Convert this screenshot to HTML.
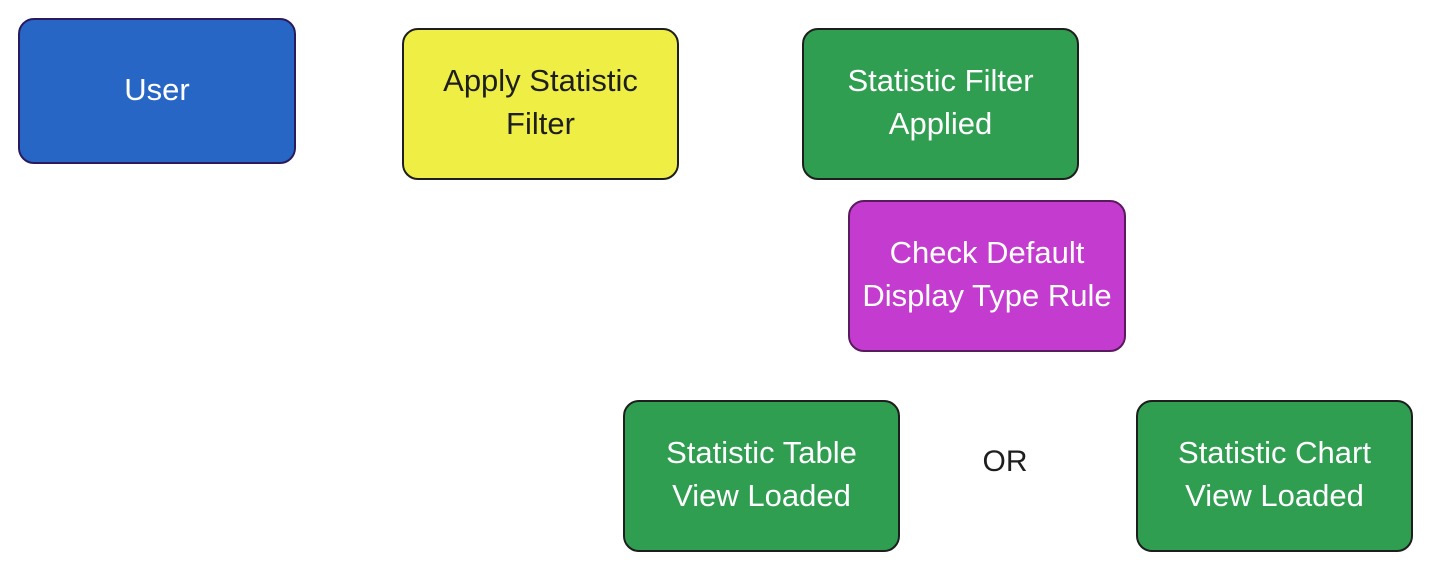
<!DOCTYPE html>
<html><head><meta charset="utf-8"><style>
body{margin:0;width:1433px;height:572px;background:#fff;position:relative;overflow:hidden;font-family:"Liberation Sans",sans-serif}
.b{position:absolute;box-sizing:border-box;border:2px solid #1e1e1e;border-radius:16px;display:flex;align-items:center;justify-content:center;text-align:center;font-size:31px;line-height:43px;color:#fff;padding-bottom:4px}
</style></head><body>
<div class="b" style="left:18px;top:18px;width:278px;height:146px;background:#2866c5;border-color:#2a1a5e">User</div>
<div class="b" style="left:402px;top:28px;width:277px;height:152px;background:#eeee44;color:#1e1e1e">Apply Statistic<br>Filter</div>
<div class="b" style="left:802px;top:28px;width:277px;height:152px;background:#2f9e50">Statistic Filter<br>Applied</div>
<div class="b" style="left:848px;top:200px;width:278px;height:152px;background:#c43bcf;border-color:#5a1a5e">Check Default<br>Display Type Rule</div>
<div class="b" style="left:623px;top:400px;width:277px;height:152px;background:#2f9e50">Statistic Table<br>View Loaded</div>
<div class="b" style="left:1136px;top:400px;width:277px;height:152px;background:#2f9e50">Statistic Chart<br>View Loaded</div>
<div style="position:absolute;left:960px;top:445px;width:90px;text-align:center;font-size:30px;color:#1e1e1e">OR</div>
</body></html>
